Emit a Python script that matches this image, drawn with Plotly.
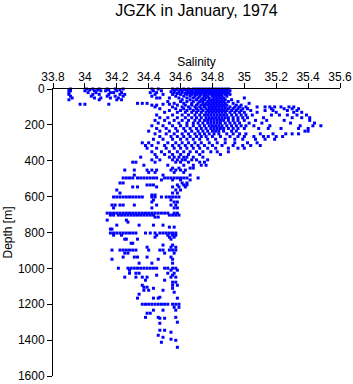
import plotly.graph_objects as go

# ---- data: salinity readings grouped by depth (m) ----
surface_depths = [0, 5, 10, 15, 20, 25, 30, 40, 50, 60, 70, 80, 85, 90]
surface_salinity = [
    [33.91, 34.01, 34.05, 34.09, 34.14, 34.19, 34.24, 34.42, 34.46, 34.55, 34.58, 34.62, 34.65, 34.68, 34.70, 34.72, 34.74, 34.76, 34.78, 34.80, 34.82, 34.84, 34.86, 34.88, 34.90],
    [33.90, 34.03, 34.08, 34.15, 34.22, 34.57, 34.60, 34.63, 34.66, 34.69, 34.71, 34.73, 34.75, 34.77, 34.79, 34.81, 34.83, 34.85, 34.87, 34.89],
    [33.91, 34.00, 34.06, 34.10, 34.13, 34.20, 34.43, 34.48, 34.56, 34.61, 34.64, 34.67, 34.70, 34.72, 34.74, 34.76, 34.78, 34.80, 34.82, 34.84, 34.86, 34.88, 34.91],
    [34.54, 34.59, 34.64, 34.67, 34.70, 34.73, 34.76, 34.78, 34.80, 34.82, 34.84, 34.86, 34.88],
    [33.90, 34.02, 34.07, 34.16, 34.18, 34.23, 34.41, 34.45, 34.56, 34.61, 34.65, 34.68, 34.71, 34.74, 34.77, 34.79, 34.81, 34.83, 34.85, 34.87, 34.90],
    [34.58, 34.63, 34.66, 34.69, 34.72, 34.75, 34.78, 34.80, 34.82, 34.84, 34.86, 34.89],
    [33.90, 34.05, 34.09, 34.15, 34.22, 34.25, 34.44, 34.49, 34.55, 34.60, 34.64, 34.67, 34.70, 34.73, 34.76, 34.79, 34.81, 34.83, 34.85, 34.88, 34.91],
    [33.91, 34.04, 34.14, 34.19, 34.24, 34.42, 34.57, 34.62, 34.66, 34.69, 34.72, 34.75, 34.77, 34.80, 34.82, 34.84, 34.86, 34.89],
    [33.92, 34.06, 34.10, 34.16, 34.21, 34.45, 34.47, 34.53, 34.59, 34.64, 34.68, 34.71, 34.74, 34.76, 34.78, 34.81, 34.83, 34.85, 34.87, 35.00],
    [33.90, 34.09, 34.20, 34.23, 34.61, 34.66, 34.70, 34.73, 34.75, 34.78, 34.80, 34.82, 34.84, 34.86, 34.88, 34.92],
    [34.52, 34.60, 34.64, 34.68, 34.72, 34.74, 34.77, 34.79, 34.81, 34.83, 34.85, 34.87, 34.90, 34.96],
    [34.33, 34.36, 34.39, 34.56, 34.62, 34.67, 34.71, 34.74, 34.76, 34.78, 34.80, 34.82, 34.84, 34.86, 34.88, 34.93, 35.03],
    [33.97, 34.00, 34.15, 34.49, 34.53],
    [34.42, 34.45, 34.58, 34.63, 34.67, 34.70, 34.73, 34.75, 34.77, 34.79, 34.81, 34.83, 34.85, 34.87, 34.89, 34.95, 34.98],
]

core_depths = [100, 110, 120, 130, 145, 160, 175, 190, 205, 220, 235, 250, 265, 280]
core_salinity = [
    [34.44, 34.55, 34.61, 34.65, 34.69, 34.72, 34.75, 34.78, 34.80, 34.82, 34.84, 34.86, 34.88, 34.91, 34.94, 34.97, 35.01, 35.08, 35.13, 35.16, 35.19, 35.23, 35.28, 35.31],
    [34.47, 34.57, 34.62, 34.66, 34.70, 34.73, 34.76, 34.78, 34.80, 34.82, 34.84, 34.86, 34.88, 34.90, 34.93, 34.96, 34.99, 35.02, 35.17, 35.25, 35.30, 35.34],
    [34.53, 34.60, 34.64, 34.68, 34.71, 34.74, 34.77, 34.79, 34.81, 34.83, 34.85, 34.87, 34.89, 34.92, 34.95, 34.98, 35.04, 35.13, 35.18, 35.27, 35.33],
    [34.50, 34.58, 34.63, 34.67, 34.70, 34.73, 34.76, 34.78, 34.80, 34.82, 34.84, 34.86, 34.88, 34.91, 34.94, 34.97, 35.00, 35.08, 35.20, 35.31, 35.36],
    [34.45, 34.55, 34.61, 34.65, 34.69, 34.72, 34.75, 34.77, 34.79, 34.81, 34.83, 34.85, 34.87, 34.89, 34.92, 34.95, 34.98, 35.01, 35.05, 35.17, 35.22, 35.27, 35.33, 35.39],
    [34.47, 34.52, 34.58, 34.63, 34.67, 34.70, 34.73, 34.76, 34.78, 34.80, 34.82, 34.84, 34.86, 34.88, 34.90, 34.93, 34.96, 34.99, 35.02, 35.12, 35.30, 35.36, 35.41],
    [34.44, 34.50, 34.56, 34.61, 34.65, 34.69, 34.72, 34.75, 34.77, 34.79, 34.81, 34.83, 34.85, 34.87, 34.90, 34.93, 34.96, 35.00, 35.07, 35.14, 35.25, 35.41],
    [34.46, 34.53, 34.59, 34.64, 34.68, 34.71, 34.74, 34.77, 34.79, 34.81, 34.83, 34.85, 34.88, 34.91, 34.94, 34.97, 35.03, 35.11, 35.29, 35.44],
    [34.42, 34.49, 34.55, 34.60, 34.64, 34.68, 34.72, 34.75, 34.78, 34.80, 34.82, 34.84, 34.86, 34.89, 34.92, 34.95, 34.98, 35.01, 35.06, 35.16, 35.35, 35.43, 35.48],
    [34.45, 34.51, 34.57, 34.62, 34.66, 34.70, 34.73, 34.76, 34.79, 34.81, 34.83, 34.85, 34.87, 34.90, 34.93, 34.96, 35.00, 35.09, 35.15, 35.23, 35.34, 35.40],
    [34.40, 34.47, 34.53, 34.58, 34.63, 34.67, 34.71, 34.74, 34.77, 34.80, 34.82, 34.84, 34.87, 34.92, 34.95, 35.38, 35.40],
    [34.44, 34.51, 34.56, 34.61, 34.65, 34.69, 34.72, 34.75, 34.78, 34.81, 34.84, 34.89, 34.93, 34.97, 35.01, 35.10, 35.18, 35.26, 35.30, 35.34],
    [34.47, 34.54, 34.58, 34.62, 34.66, 34.70, 34.73, 34.76, 34.80, 34.85, 34.91, 34.96, 35.00, 35.06, 35.12, 35.15, 35.20, 35.24],
    [34.43, 34.49, 34.55, 34.60, 34.64, 34.68, 34.72, 34.77, 34.82, 34.88, 34.94, 34.99, 35.07, 35.13, 35.19],
]

mid_depths = [300, 315, 330, 350, 365, 380, 395, 408, 425, 441, 452, 465, 480, 496, 507, 524, 535, 546, 563, 580, 591, 602, 619, 630, 647, 663, 692]
mid_salinity = [
    [34.36, 34.40, 34.46, 34.52, 34.57, 34.61, 34.65, 34.69, 34.73, 34.78, 34.83, 34.88, 34.94, 35.02, 35.08],
    [34.38, 34.42, 34.50, 34.55, 34.59, 34.63, 34.67, 34.71, 34.75, 34.80, 34.86, 34.93, 34.99, 35.04, 35.10],
    [34.39, 34.45, 34.51, 34.56, 34.60, 34.64, 34.68, 34.72, 34.77, 34.82, 34.90, 34.96, 35.00],
    [34.42, 34.48, 34.53, 34.58, 34.62, 34.66, 34.70, 34.74, 34.79, 34.83, 34.90],
    [34.44, 34.50, 34.55, 34.60, 34.65, 34.72, 34.85],
    [34.35, 34.45, 34.53, 34.56, 34.59, 34.62, 34.64, 34.68, 34.74],
    [34.42, 34.47, 34.55, 34.58, 34.61, 34.63, 34.67, 34.70, 34.77],
    [34.30, 34.32, 34.44, 34.57, 34.60, 34.65, 34.72, 34.75],
    [34.37, 34.52, 34.62, 34.68, 34.73, 34.76],
    [34.55, 34.59, 34.66, 34.68],
    [34.25, 34.31, 34.39, 34.42, 34.45, 34.54, 34.57, 34.60, 34.63],
    [34.40, 34.44, 34.56, 34.62],
    [34.31, 34.49, 34.66],
    [34.24, 34.26, 34.28, 34.30, 34.33, 34.35, 34.37, 34.39, 34.41, 34.43, 34.45, 34.50, 34.52, 34.54, 34.56, 34.58, 34.60, 34.62, 34.64, 34.71],
    [34.48, 34.55, 34.60, 34.66],
    [34.22, 34.24, 34.61, 34.64],
    [34.39, 34.41, 34.43, 34.58, 34.62, 34.64],
    [34.30, 34.33, 34.45, 34.55, 34.59, 34.63],
    [34.20, 34.57, 34.60],
    [34.22, 34.55, 34.58],
    [34.42, 34.44],
    [34.18, 34.20, 34.22, 34.24, 34.26, 34.28, 34.30, 34.32, 34.34, 34.36, 34.42, 34.44, 34.48, 34.51, 34.53, 34.55, 34.57, 34.59],
    [34.43, 34.54],
    [34.42, 34.56, 34.58],
    [34.17, 34.19, 34.22, 34.24, 34.31, 34.45, 34.54, 34.57],
    [34.18, 34.42, 34.56, 34.58],
    [34.14, 34.16, 34.18, 34.20, 34.22, 34.24, 34.26, 34.28, 34.30, 34.32, 34.34, 34.36, 34.38, 34.40, 34.42, 34.44, 34.46, 34.48, 34.50, 34.52, 34.56, 34.58],
]

deep_depths = [703, 714, 731, 742, 759, 770, 781, 803, 815, 826, 837, 860, 870, 882, 898, 915, 937, 949, 971,
               999, 1010, 1027, 1038, 1049, 1066, 1077, 1094, 1105, 1111, 1122, 1133, 1144, 1161, 1166,
               1200, 1217, 1233, 1250, 1273, 1278, 1300, 1306, 1345, 1356, 1373, 1384, 1395, 1401, 1412, 1440]
deep_salinity = [
    [34.16, 34.18, 34.21, 34.23, 34.25, 34.27, 34.29, 34.31, 34.33, 34.35, 34.37, 34.39, 34.41, 34.43, 34.53, 34.55, 34.57, 34.59],
    [34.44, 34.46],
    [34.14, 34.26],
    [34.27],
    [34.20, 34.34, 34.43, 34.49],
    [34.53, 34.56],
    [34.16, 34.17],
    [34.16, 34.18, 34.20, 34.22, 34.24, 34.26, 34.28, 34.30, 34.32, 34.38, 34.41, 34.44, 34.47, 34.49, 34.51, 34.53, 34.55, 34.57],
    [34.18, 34.23, 34.45, 34.52, 34.55, 34.57],
    [34.44, 34.53, 34.56],
    [34.25, 34.26, 34.33, 34.54],
    [34.29, 34.30],
    [34.49, 34.55],
    [34.39, 34.54, 34.57],
    [34.17, 34.22, 34.24, 34.26, 34.28, 34.30, 34.32, 34.40, 34.47, 34.49, 34.53, 34.55, 34.57],
    [34.25, 34.27, 34.50, 34.56],
    [34.24, 34.31, 34.33, 34.39, 34.54],
    [34.17, 34.46, 34.55],
    [34.34, 34.42, 34.55],
    [34.21, 34.27, 34.29, 34.31, 34.33, 34.35, 34.37, 34.39, 34.41, 34.43, 34.45, 34.50, 34.52, 34.55, 34.57],
    [34.28, 34.54, 34.58],
    [34.28, 34.32, 34.34, 34.52, 34.56],
    [34.45, 34.55],
    [34.25, 34.32, 34.36, 34.39, 34.54, 34.57],
    [34.38, 34.50],
    [34.55, 34.57],
    [34.36, 34.55, 34.58],
    [34.37, 34.39],
    [34.43, 34.55],
    [34.37, 34.40, 34.49],
    [34.56],
    [34.34],
    [34.47],
    [34.33, 34.43, 34.46, 34.58],
    [34.36, 34.38, 34.40, 34.42, 34.44, 34.46, 34.48, 34.50, 34.52, 34.55, 34.57, 34.59],
    [34.56, 34.59],
    [34.43, 34.49, 34.57],
    [34.39, 34.41],
    [34.38, 34.46, 34.57],
    [34.47, 34.50],
    [34.58],
    [34.47],
    [34.47, 34.50],
    [34.54],
    [34.46],
    [34.49],
    [34.54],
    [34.57],
    [34.48],
    [34.58],
]

salinity_ticks = [33.8, 34.0, 34.2, 34.4, 34.6, 34.8, 35.0, 35.2, 35.4, 35.6]
salinity_tick_labels = ["33.8", "34", "34.2", "34.4", "34.6", "34.8", "35", "35.2", "35.4", "35.6"]
depth_ticks = [0, 200, 400, 600, 800, 1000, 1200, 1400, 1600]

# ---- flatten ----
xs, ys = [], []
for depths, sals in [(surface_depths, surface_salinity), (core_depths, core_salinity),
                     (mid_depths, mid_salinity), (deep_depths, deep_salinity)]:
    for d, row in zip(depths, sals):
        for s in row:
            xs.append(s)
            ys.append(d)

fig = go.Figure(go.Scatter(
    x=xs, y=ys, mode="markers",
    marker=dict(symbol="square", size=3, color="#0000ff", line=dict(width=0)),
    cliponaxis=False, hoverinfo="skip",
))

axis_common = dict(showline=True, linecolor="black", linewidth=1, ticks="outside",
                   ticklen=5, tickwidth=1, tickcolor="black", showgrid=False,
                   zeroline=False, automargin=False,
                   tickfont=dict(size=12, color="black"))

fig.update_layout(
    width=353, height=384,
    margin=dict(l=53, r=13, t=89, b=8),
    paper_bgcolor="white", plot_bgcolor="white",
    showlegend=False,
    font=dict(family="Liberation Sans, Arial, sans-serif", size=12, color="black"),
    title=dict(text="JGZK in January, 1974", x=0.5, xref="paper", xanchor="center",
               y=1 - 10 / 384, yref="container", yanchor="middle",
               font=dict(size=16, color="black")),
    xaxis=dict(range=[33.8, 35.6], side="top", tickmode="array",
               tickvals=salinity_ticks, ticktext=salinity_tick_labels,
               ticklabelstandoff=-3,
               title=dict(text="Salinity", standoff=1, font=dict(size=12)),
               **axis_common),
    yaxis=dict(range=[1600, 0], tickmode="array", tickvals=depth_ticks,
               title=dict(text="Depth [m]", standoff=2, font=dict(size=12)),
               **axis_common),
)

fig.write_html("out.html")
